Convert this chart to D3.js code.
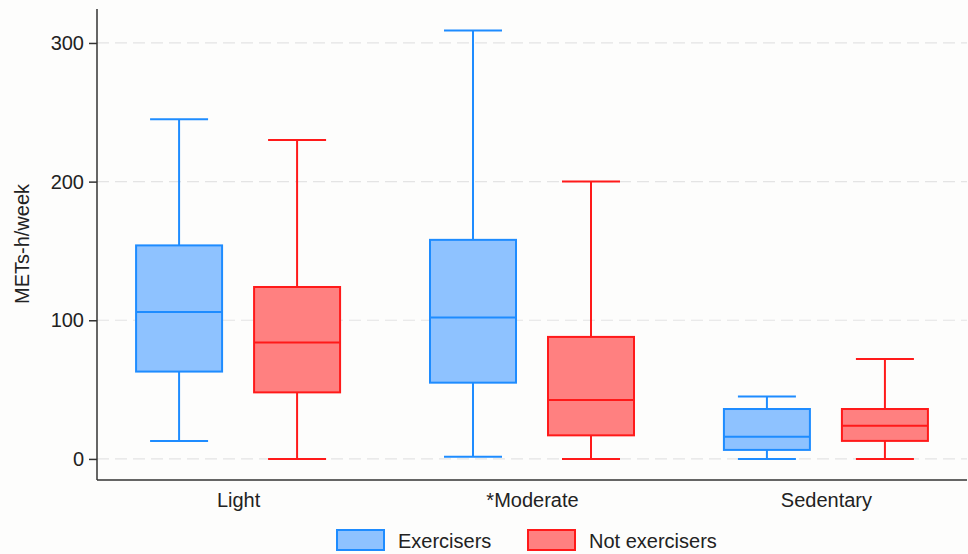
<!DOCTYPE html>
<html>
<head>
<meta charset="utf-8">
<script src="https://cdn.jsdelivr.net/npm/d3@7"></script>
<style>
  body { margin: 0; background: #fdfdfc; }
  svg { font-family: "Liberation Sans", Arial, sans-serif; }
</style>
</head>
<body>
<div id="chart"></div>
<script>
// categories and series
const categories = ["Light", "*Moderate", "Sedentary"];
const seriesNames = ["Exercisers", "Not exercisers"];
// [lower whisker, Q1, median, Q3, upper whisker]
const exercisers = [
  [13, 63, 106, 154, 245],
  [1.5, 55, 102, 158, 309],
  [0, 6.5, 16, 36, 45]
];
const notExercisers = [
  [0, 48, 84, 124, 230],
  [0, 17, 42.5, 88, 200],
  [0, 13, 24, 36, 72]
];
const yTicks = [0, 100, 200, 300];

const width = 968, height = 554;
const margin = { top: 9, right: 1, bottom: 74, left: 97 };

const style = {
  stroke: ["#1e8cff", "#ff1a1a"],
  fill: ["#8ec2ff", "#ff8080"],
  grid: "#e4e4e4",
  axis: "#333",
  fontSize: 20
};

const svg = d3.select("#chart").append("svg")
  .attr("width", width).attr("height", height);

const x = d3.scalePoint()
  .domain(categories)
  .range([margin.left, width - margin.right])
  .padding(0.48);

const y = d3.scaleLinear()
  .domain([-15.2, 324.5])
  .range([height - margin.bottom, margin.top]);

// gridlines
svg.append("g")
  .selectAll("line")
  .data(yTicks)
  .join("line")
  .attr("x1", margin.left).attr("x2", width - margin.right)
  .attr("y1", d => y(d)).attr("y2", d => y(d))
  .attr("stroke", style.grid)
  .attr("stroke-width", 1.2)
  .attr("stroke-dasharray", "12,6");

// boxes
const boxW = 86, capW = 58, offset = 59;
const data = [];
categories.forEach((c, i) => {
  data.push({ cat: c, s: 0, v: exercisers[i] });
  data.push({ cat: c, s: 1, v: notExercisers[i] });
});

const boxes = svg.append("g")
  .selectAll("g")
  .data(data)
  .join("g")
  .attr("transform", d => `translate(${x(d.cat) + (d.s === 0 ? -offset : offset)},0)`)
  .attr("stroke", d => style.stroke[d.s])
  .attr("stroke-width", 2);

// whiskers
boxes.append("line")
  .attr("x1", 0).attr("x2", 0)
  .attr("y1", d => y(d.v[0])).attr("y2", d => y(d.v[1]));
boxes.append("line")
  .attr("x1", 0).attr("x2", 0)
  .attr("y1", d => y(d.v[3])).attr("y2", d => y(d.v[4]));
boxes.append("line")
  .attr("x1", -capW / 2).attr("x2", capW / 2)
  .attr("y1", d => y(d.v[0])).attr("y2", d => y(d.v[0]));
boxes.append("line")
  .attr("x1", -capW / 2).attr("x2", capW / 2)
  .attr("y1", d => y(d.v[4])).attr("y2", d => y(d.v[4]));
// box
boxes.append("rect")
  .attr("x", -boxW / 2)
  .attr("width", boxW)
  .attr("y", d => y(d.v[3]))
  .attr("height", d => y(d.v[1]) - y(d.v[3]))
  .attr("fill", d => style.fill[d.s]);
// median
boxes.append("line")
  .attr("x1", -boxW / 2).attr("x2", boxW / 2)
  .attr("y1", d => y(d.v[2])).attr("y2", d => y(d.v[2]));

// y axis
const yAxis = svg.append("g")
  .attr("transform", `translate(${margin.left},0)`)
  .call(d3.axisLeft(y).tickValues(yTicks).tickSize(8).tickPadding(5));
yAxis.select(".domain").attr("stroke", style.axis).attr("stroke-width", 1.5)
  .attr("d", `M0,${margin.top}V${height - margin.bottom}`);
yAxis.selectAll(".tick line").attr("stroke", style.axis).attr("stroke-width", 1.5);
yAxis.selectAll(".tick text").attr("font-size", style.fontSize).attr("fill", "#222");

// x axis
const xAxis = svg.append("g")
  .attr("transform", `translate(0,${height - margin.bottom})`)
  .call(d3.axisBottom(x).tickSize(0).tickPadding(13));
xAxis.select(".domain").attr("stroke", style.axis).attr("stroke-width", 1.5)
  .attr("d", `M${margin.left},0H${width - margin.right}`);
xAxis.selectAll(".tick text").attr("font-size", style.fontSize).attr("fill", "#222");

// y label
svg.append("text")
  .attr("transform", `translate(29,244) rotate(-90)`)
  .attr("text-anchor", "middle")
  .attr("font-size", style.fontSize)
  .attr("fill", "#222")
  .text("METs-h/week");

// legend
const legendX = [337, 528];
const legend = svg.append("g")
  .selectAll("g")
  .data(seriesNames)
  .join("g")
  .attr("transform", (d, i) => `translate(${legendX[i]},530)`);
legend.append("rect")
  .attr("width", 47).attr("height", 20)
  .attr("fill", (d, i) => style.fill[i])
  .attr("stroke", (d, i) => style.stroke[i])
  .attr("stroke-width", 2);
legend.append("text")
  .attr("x", 61).attr("y", 18)
  .attr("font-size", style.fontSize)
  .attr("fill", "#222")
  .text(d => d);
</script>
</body>
</html>
